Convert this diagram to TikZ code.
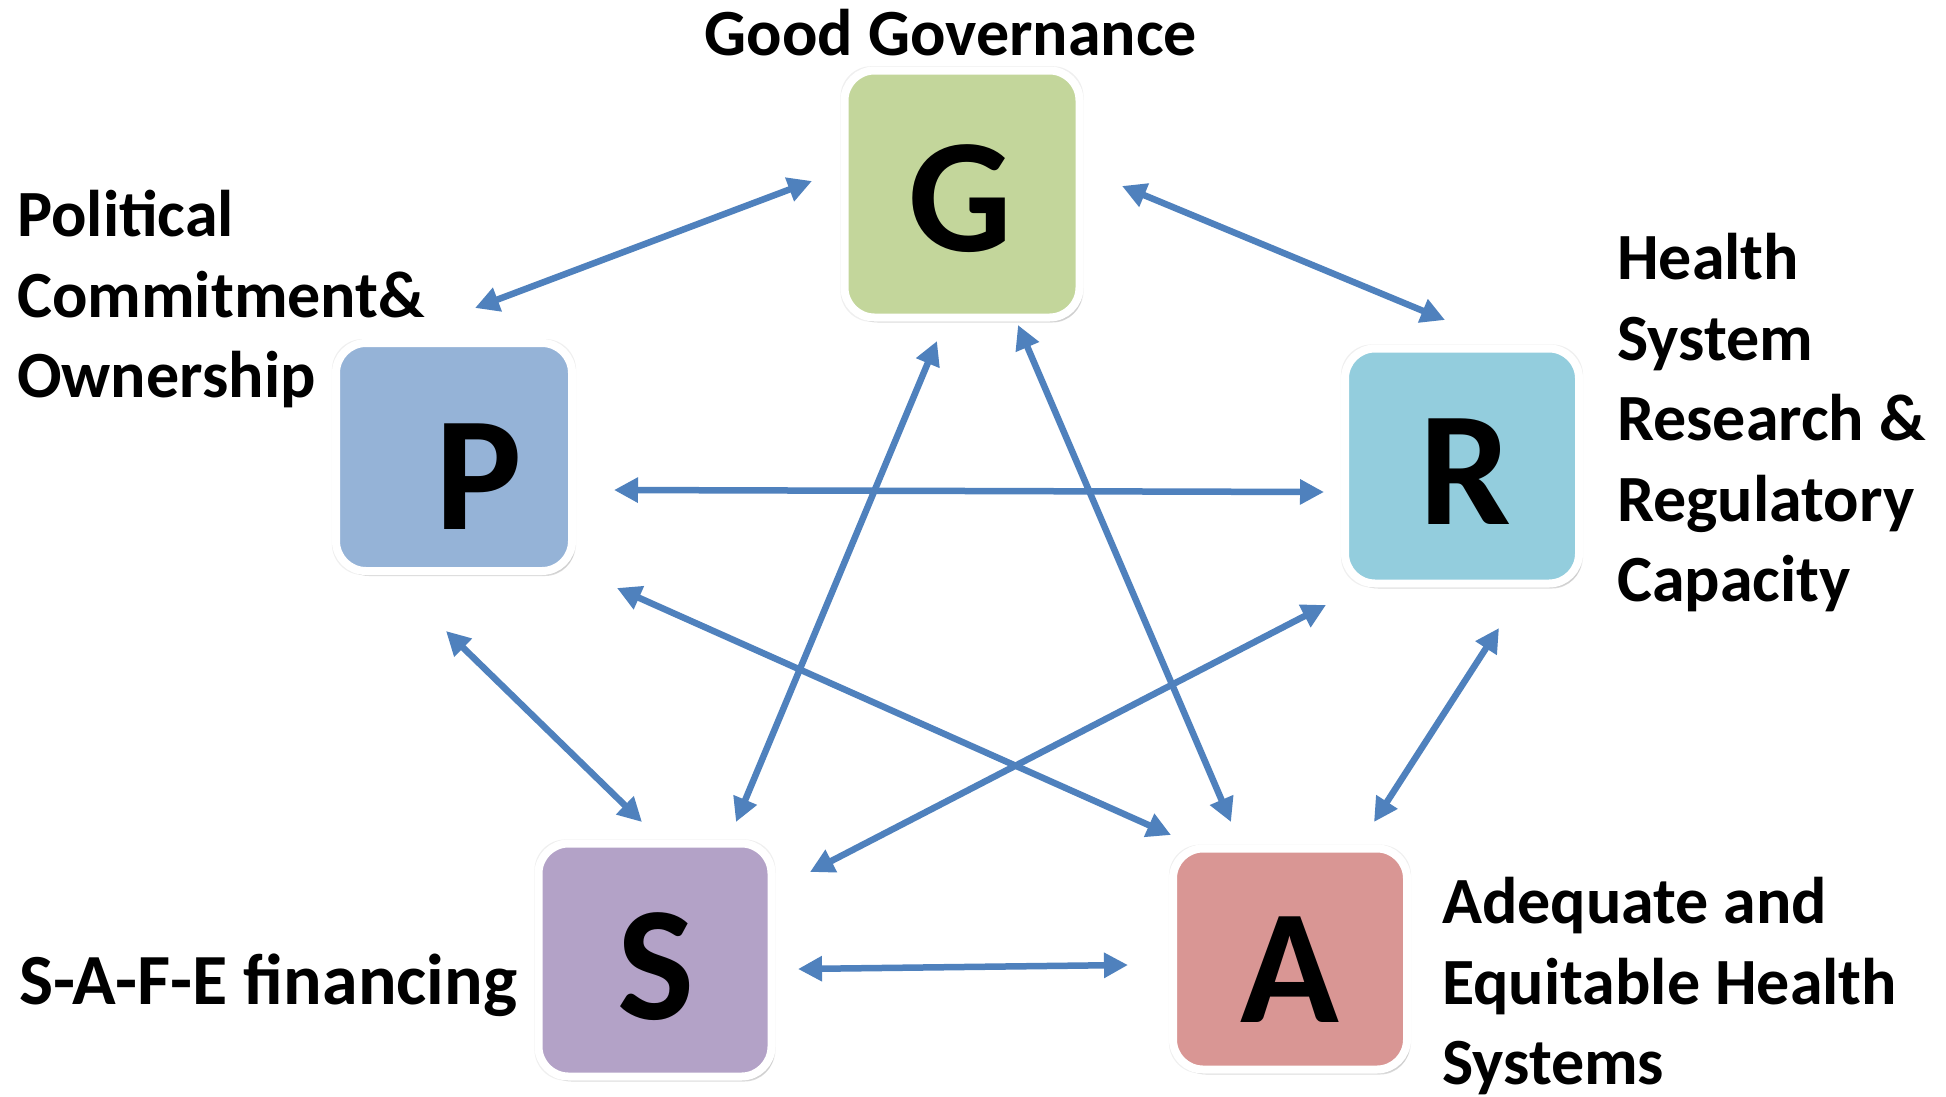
\documentclass[tikz,border=0pt]{standalone}
\usepackage{fontspec}
\setmainfont{Carlito}
\usepackage{tikz}
\usetikzlibrary{arrows.meta,calc,shadows}

\definecolor{linkblue}{RGB}{79,129,189}
\definecolor{govgreen}{RGB}{195,214,155}
\definecolor{polblue}{RGB}{149,179,215}
\definecolor{resblue}{RGB}{147,205,221}
\definecolor{finviolet}{RGB}{179,162,199}
\definecolor{adqred}{RGB}{217,150,148}

\begin{document}
\begin{tikzpicture}[x=1pt,y=-1pt,
    box/.style={rectangle,rounded corners=30pt,draw=white,line width=8pt,inner sep=0pt,
      drop shadow={shadow xshift=0pt,shadow yshift=0pt,shadow scale=1.035,opacity=0.12},
      drop shadow={shadow xshift=3pt,shadow yshift=-5pt,opacity=0.28}},
    letter/.style={inner sep=0pt,font=\fontsize{163}{163}\selectfont\bfseries},
    caption/.style={inner sep=0pt,align=left,font=\fontsize{66}{80.5}\selectfont\bfseries},
    link/.style={draw=linkblue,line width=6.5pt,
      {Triangle[length=24pt,width=24pt]}-{Triangle[length=24pt,width=24pt]}}]
  \useasboundingbox (0,0) rectangle (1946,1096);
  \fill[white] (0,0) rectangle (1946,1096);

  % the five boxes
  \node[box,fill=govgreen,minimum width=235pt,minimum height=247pt] (G) at (962,194) {};
  \node[box,fill=polblue,minimum width=236pt,minimum height=228pt] (P) at (454,457) {};
  \node[box,fill=resblue,minimum width=234pt,minimum height=235pt] (R) at (1462,466) {};
  \node[box,fill=finviolet,minimum width=233pt,minimum height=233pt] (S) at (655,960) {};
  \node[box,fill=adqred,minimum width=234pt,minimum height=221pt] (A) at (1290,959) {};

  \node[letter] (g) at (960,199) {G};
  \node[letter] (p) at (479,477) {P};
  \node[letter] (r) at (1465,472) {R};
  \node[letter] (s) at (656,967) {S};
  \node[letter] (a) at (1290,970) {A};

  % links
  \draw[link] ($(G)+(-150,-13)$) -- ($(P)+(21,-149)$);
  \draw[link] ($(G)+(160,-8)$) -- ($(R)+(-17,-146)$);
  \draw[link] ($(P)+(160,33)$) -- ($(R)+(-138,26)$);
  \draw[link] ($(P)+(163,131)$) -- ($(A)+(-119,-124)$);
  \draw[link] ($(P)+(-8,174)$) -- ($(S)+(-13,-138)$);
  \draw[link] ($(S)+(81,-138)$) -- ($(G)+(-25,147)$);
  \draw[link] ($(G)+(56,131)$) -- ($(A)+(-59,-137)$);
  \draw[link] ($(R)+(-136,139)$) -- ($(S)+(155,-88)$);
  \draw[link] ($(R)+(37,162)$) -- ($(A)+(84,-137)$);
  \draw[link] ($(S)+(143,9)$) -- ($(A)+(-162,6)$);

  % captions
  \node[caption,anchor=base] (gtext) at (951,55) {Good Governance};
  \node[caption,anchor=north west] (ptext) at (17,190) {Political\\Commitment\&\\Ownership};
  \node[caption,anchor=north west] (rtext) at (1617,233) {Health\\System\\Research \&\\Regulatory\\Capacity};
  \node[caption,anchor=base west,font=\fontsize{72}{80}\selectfont\bfseries] (stext) at (19,1004) {S-A-F-E financing};
  \node[caption,anchor=north west] (atext) at (1442,877) {Adequate and\\Equitable Health\\Systems};
\end{tikzpicture}
\end{document}
